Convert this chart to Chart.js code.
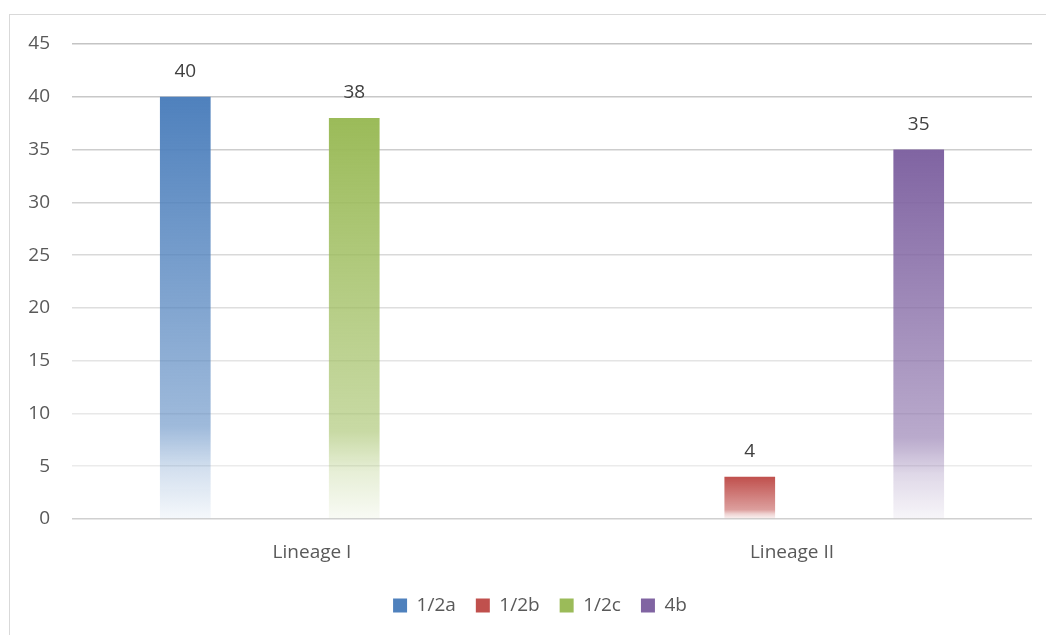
<!DOCTYPE html>
<html>
<head>
<meta charset="utf-8">
<script src="https://cdn.jsdelivr.net/npm/chart.js@4"></script>
<style>
  html, body { margin: 0; padding: 0; background: #fff; overflow: hidden; }
  #canvasWrapper {
    position: absolute; left: 9px; top: 14px;
    width: 1045px; height: 622px;
    border: 1px solid #d9d9d9; box-sizing: border-box;
  }
</style>
</head>
<body>
<div id="canvasWrapper"><canvas id="dataChart"></canvas></div>
<script>
// categories and series
let categories = ['Lineage I', 'Lineage II'];
let seriesNames = ['1/2a', '1/2b', '1/2c', '4b'];
let values12a = [40, 0];
let values12b = [0, 4];
let values12c = [38, 0];
let values4b = [0, 35];
let seriesColors = ['79,129,189', '192,80,77', '155,187,89', '128,100,162'];

// gridlines get lighter towards the bottom, the zero line is a bit darker again
let gridShades = ['#d0d0d0', '#ebebeb', '#e8e8e8', '#e4e4e4', '#dedede', '#d9d9d9', '#d2d2d2', '#cdcdcd', '#c8c8c8', '#c4c4c4'];

// vertical gradient per bar: solid at the top, fading to white at the base
function barGradient(rgb) {
    return function(context) {
        let chart = context.chart;
        if (context.dataIndex === undefined || !chart.chartArea) {
            return 'rgb(' + rgb + ')';
        }
        let value = context.raw;
        let yScale = chart.scales.y;
        let top = yScale.getPixelForValue(value);
        let base = yScale.getPixelForValue(0);
        if (base - top < 1) return 'rgb(' + rgb + ')';
        let g = chart.ctx.createLinearGradient(0, top, 0, base);
        g.addColorStop(0, 'rgba(' + rgb + ',1)');
        g.addColorStop(0.78, 'rgba(' + rgb + ',0.55)');
        g.addColorStop(0.88, 'rgba(' + rgb + ',0.25)');
        g.addColorStop(1, 'rgba(' + rgb + ',0.06)');
        return g;
    };
}

let seriesValues = [values12a, values12b, values12c, values4b];
let datasets = seriesNames.map((name, i) => ({
    label: name,
    data: seriesValues[i],
    backgroundColor: barGradient(seriesColors[i]),
    borderWidth: 0,
    barPercentage: 0.6,
    categoryPercentage: 0.704
}));

// value labels above non-zero bars
let valueLabels = {
    id: 'valueLabels',
    afterLayout(chart) {
        // nudge the legend row to the right
        chart.legend.left += 19;
        chart.legend.right += 19;
    },
    afterDatasetsDraw(chart) {
        let ctx = chart.ctx;
        ctx.save();
        ctx.font = '19px "Open Sans"';
        ctx.fillStyle = '#404040';
        ctx.textAlign = 'center';
        ctx.textBaseline = 'middle';
        chart.data.datasets.forEach((ds, di) => {
            let meta = chart.getDatasetMeta(di);
            meta.data.forEach((bar, i) => {
                let v = ds.data[i];
                if (!v) return;
                ctx.fillText(String(v), bar.x, bar.y - 25);
            });
        });
        ctx.restore();
    }
};

let ctx = document.getElementById('dataChart').getContext('2d');

let myBarChart = new Chart(ctx, {
    type: 'bar',
    data: { labels: categories, datasets: datasets },
    plugins: [valueLabels],
    options: {
        responsive: true,
        maintainAspectRatio: false,
        animation: false,
        layout: { padding: { top: 29, right: 21, left: 0, bottom: 10 } },
        plugins: {
            tooltip: { enabled: false },
            legend: {
                position: 'bottom',
                labels: {
                    boxWidth: 14,
                    boxHeight: 14,
                    padding: 20,
                    color: '#595959',
                    font: { family: 'Open Sans', size: 19 },
                    // legend swatches use the plain series colour
                    generateLabels: function(chart) {
                        let items = Chart.defaults.plugins.legend.labels.generateLabels(chart);
                        items.forEach((item, i) => {
                            item.fillStyle = 'rgb(' + seriesColors[i] + ')';
                            item.lineWidth = 0;
                        });
                        return items;
                    }
                }
            }
        },
        scales: {
            x: {
                grid: { display: false },
                border: { display: false },
                ticks: { color: '#595959', font: { family: 'Open Sans', size: 19 }, padding: 14 },
                afterFit: s => { s.height = 57; }
            },
            y: {
                min: 0, max: 45,
                ticks: { stepSize: 5, color: '#595959', font: { family: 'Open Sans', size: 19 }, padding: 22 },
                grid: {
                    color: c => gridShades[c.index] || '#d9d9d9',
                    lineWidth: 1.5,
                    drawTicks: false
                },
                border: { display: false },
                afterFit: s => {
                    s.width = 62;
                    s.paddingTop = 0;
                    s.paddingBottom = 0;
                }
            }
        }
    }
});
</script>
</body>
</html>
